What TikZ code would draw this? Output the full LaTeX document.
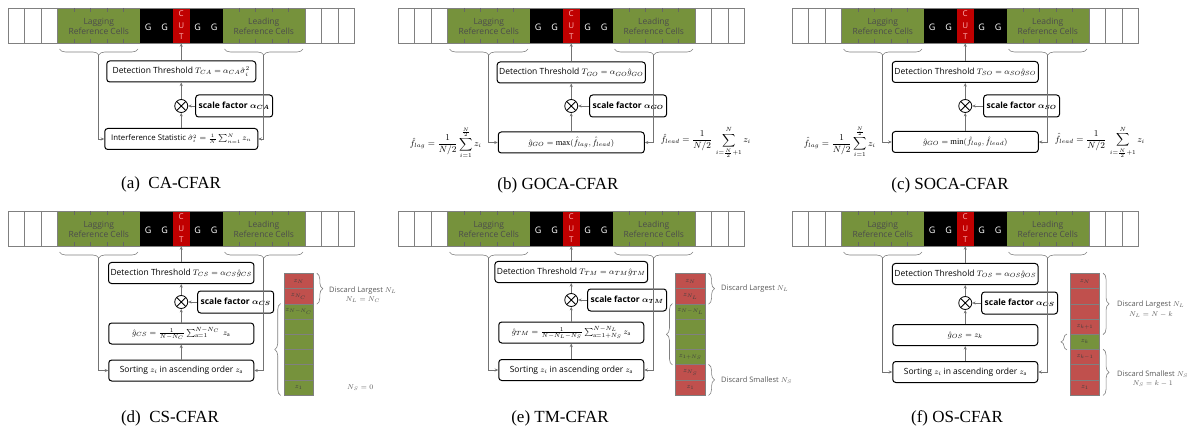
\documentclass[tikz,border=0pt]{standalone}
\usepackage{amsmath}
\usepackage{fontspec}
\setmainfont{Liberation Serif}
\setsansfont{Open Sans}
\usetikzlibrary{arrows.meta, positioning, decorations.pathreplacing, calc}

\definecolor{refgreen}{HTML}{76923C}
\definecolor{cutred}{HTML}{C00000}
\definecolor{dropred}{HTML}{C0504D}
\definecolor{cellgray}{HTML}{808080}

\newcommand{\cw}{16.5} % width of one range cell

\tikzset{
  cellline/.style={draw=cellgray, line width=0.8pt},
  tickline/.style={draw=black!60, line width=0.6pt},
  celltext/.style={font=\sffamily\fontsize{8.5}{10.5}\selectfont, text=black!70, align=center, inner sep=0pt},
  guardtext/.style={font=\sffamily\fontsize{9}{10}\selectfont, text=white, inner sep=0pt},
  cutcell/.style={fill=cutred, minimum width=\cw pt, minimum height=35pt, inner sep=0pt, align=center,
    font=\sffamily\fontsize{8}{11.5}\selectfont, text=red!30},
  rowbrace/.style={decorate, decoration={brace, mirror, amplitude=6pt}, draw=gray, line width=0.6pt},
  % one row of 21 range cells, lagging/leading windows, guards and CUT
  pics/cellrow/.style={code={
    \fill[refgreen] (3*\cw,0) rectangle (8*\cw,35);
    \fill[refgreen] (13*\cw,0) rectangle (18*\cw,35);
    \fill[black] (8*\cw,0) rectangle (13*\cw,35);
    \node[cutcell] (-cut) at (10.5*\cw,17.5) {C\\U\\T};
    \foreach \i in {1,2,3,18,19,20}
      \draw[cellline] (\i*\cw,0) -- ++(0,35);
    \draw[cellline] (0,0) rectangle (21*\cw,35);
    \foreach \i in {4,5,6,7,14,15,16,17} {
      \draw[tickline] (\i*\cw,0) -- ++(0,4);
      \draw[tickline] (\i*\cw,35) -- ++(0,-4);
    }
    \node[celltext] (-lagtext) at (5.5*\cw,18.5) {Lagging\\Reference Cells};
    \node[celltext] (-leadtext) at (15.5*\cw,18.5) {Leading\\Reference Cells};
    \foreach \i in {8,9,11,12}
      \node[guardtext] (-g\i) at (\i*\cw+0.5*\cw,19.5) {G};
    \draw[rowbrace] (3*\cw+2,41) -- (8*\cw-2,41);
    \draw[rowbrace] (13*\cw+2,41) -- (18*\cw-2,41);
    \coordinate (-lag) at (5.5*\cw,47.5);
    \coordinate (-lead) at (15.5*\cw,47.5);
  }},
}

\begin{document}
\begin{tikzpicture}[x=1pt, y=-1pt,
  box/.style={draw, rounded corners=3pt, line width=1pt, fill=white, inner sep=2pt,
    minimum height=21pt, font=\sffamily\fontsize{8.5}{10}\selectfont},
  scalebox/.style={box, font=\sffamily\bfseries\fontsize{8.5}{10}\selectfont, minimum height=22pt, inner sep=3pt},
  mult/.style={circle, draw, line width=0.8pt, minimum size=13pt, inner sep=0pt,
    path picture={\draw[line width=0.8pt]
      (path picture bounding box.north west) -- (path picture bounding box.south east)
      (path picture bounding box.north east) -- (path picture bounding box.south west);}},
  feed/.style={-{Stealth[length=3.5pt, width=3pt]}, draw=black!55, line width=0.6pt},
  sumtext/.style={font=\fontsize{9}{10}\selectfont, inner sep=0pt},
  zcell/.style={draw=cellgray, line width=0.6pt, minimum width=29.5pt, minimum height=15.2pt,
    inner sep=0pt, font=\fontsize{7}{8}\selectfont, text=black!75},
  zbrace/.style={decorate, decoration={brace, amplitude=6pt}, draw=gray, line width=0.6pt},
  droptext/.style={font=\sffamily\fontsize{7.5}{9.5}\selectfont, text=black!65, align=center,
    anchor=west, inner sep=0pt},
  caption/.style={font=\fontsize{17}{20}\selectfont, inner sep=0pt}
]
\useasboundingbox (0,0) rectangle (1196,430);

\foreach \p/\x/\y in {a/8/8, b/398/8, c/792/8, d/8/211, e/398/211, f/792/211}
  \pic (\p) at (\x,\y) {cellrow};

%% (a) CA-CFAR
\node[box, minimum width=149pt] (a-thr) at (181.25,71.5) {Detection Threshold $T_{CA}=\alpha_{CA}\hat{\sigma}_i^2$};
\node[mult] (a-mul) at (181.25,106) {};
\node[scalebox, right=7pt of a-mul] (a-scale) {scale factor $\boldsymbol{\alpha_{CA}}$};
\node[box, minimum width=153pt, font=\sffamily\fontsize{7.8}{10}\selectfont] (a-est) at (181.25,139)
  {Interference Statistic $\hat{\sigma}_i^2=\frac{1}{N}\sum_{n=1}^{N}z_n$};
\node[caption] (a-cap) at (171,184) {(a)\ \ CA-CFAR};

%% (b) GOCA-CFAR
\node[box, minimum width=146pt] (b-thr) at (571.25,72.5) {Detection Threshold $T_{GO}=\alpha_{GO}\hat{g}_{GO}$};
\node[mult] (b-mul) at (571.25,106) {};
\node[scalebox, right=11pt of b-mul] (b-scale) {scale factor $\boldsymbol{\alpha_{GO}}$};
\node[box, minimum width=146pt] (b-est) at (571.25,142.5) {$\hat{g}_{GO}=\max(\hat{f}_{lag},\hat{f}_{lead})$};
\node[sumtext, anchor=east] (b-flag) at ($(b-lag |- b-est)+(-7,0)$)
  {$\hat{f}_{lag}=\dfrac{1}{N/2}\displaystyle\sum_{i=1}^{\frac{N}{2}} z_i$};
\node[sumtext, anchor=west] (b-flead) at ($(b-lead |- b-est)+(7,0)$)
  {$\hat{f}_{lead}=\dfrac{1}{N/2}\ \displaystyle\sum_{i=\frac{N}{2}+1}^{N} z_i$};
\node[caption] (b-cap) at (558,185) {(b) GOCA-CFAR};

%% (c) SOCA-CFAR
\node[box, minimum width=146pt] (c-thr) at (965.25,72) {Detection Threshold $T_{SO}=\alpha_{SO}\hat{g}_{SO}$};
\node[mult] (c-mul) at (965.25,106) {};
\node[scalebox, right=11pt of c-mul] (c-scale) {scale factor $\boldsymbol{\alpha_{SO}}$};
\node[box, minimum width=146pt] (c-est) at (965.25,142) {$\hat{g}_{GO}=\min(\hat{f}_{lag},\hat{f}_{lead})$};
\node[sumtext, anchor=east] (c-flag) at ($(c-lag |- c-est)+(-7,0)$)
  {$\hat{f}_{lag}=\dfrac{1}{N/2}\displaystyle\sum_{i=1}^{\frac{N}{2}} z_i$};
\node[sumtext, anchor=west] (c-flead) at ($(c-lead |- c-est)+(7,0)$)
  {$\hat{f}_{lead}=\dfrac{1}{N/2}\ \displaystyle\sum_{i=\frac{N}{2}+1}^{N} z_i$};
\node[caption] (c-cap) at (950,185) {(c) SOCA-CFAR};

%% (d) CS-CFAR
\node[box, minimum width=145pt] (d-thr) at (181.25,273) {Detection Threshold $T_{CS}=\alpha_{CS}\hat{g}_{CS}$};
\node[box, minimum width=145pt] (d-est) at (181.25,333.5) {$\hat{g}_{CS}=\frac{1}{N-N_C}\sum_{\mathrm{a}=1}^{N-N_C}\ z_{\mathrm{a}}$};
\node[box, minimum width=145pt] (d-sort) at (181.25,370.5) {Sorting $z_i$ in ascending order $z_{\mathrm{a}}$};
\node[caption] (d-cap) at (170,418) {(d)\ \ CS-CFAR};

%% (e) TM-CFAR
\node[box, minimum width=145pt] (e-thr) at (571.25,272) {Detection Threshold $T_{TM}=\alpha_{TM}\hat{g}_{TM}$};
\node[box, minimum width=145pt] (e-est) at (571.25,332.5) {$\hat{g}_{TM}=\frac{1}{N-N_L-N_S}\sum_{\mathrm{a}=1+N_S}^{N-N_L} z_{\mathrm{a}}$};
\node[box, minimum width=145pt] (e-sort) at (571.25,370) {Sorting $z_i$ in ascending order $z_{\mathrm{a}}$};
\node[caption] (e-cap) at (560,418) {(e) TM-CFAR};

%% (f) OS-CFAR
\node[box, minimum width=145pt] (f-thr) at (965.25,274) {Detection Threshold $T_{OS}=\alpha_{OS}\hat{g}_{OS}$};
\node[box, minimum width=145pt] (f-est) at (965.25,335) {$\hat{g}_{OS}=z_k$};
\node[box, minimum width=145pt] (f-sort) at (965.25,372) {Sorting $z_i$ in ascending order $z_{\mathrm{a}}$};
\node[caption] (f-cap) at (957,418) {(f) OS-CFAR};

\foreach \p/\s/\ym in {d/CS/302, e/TM/300, f/OS/303} {
  \node[mult] (\p-mul) at (\p-thr |- 0,\ym) {};
  \node[scalebox, right=9pt of \p-mul] (\p-scale) {scale factor $\boldsymbol{\alpha_{\s}}$};
}

% signal flow
\foreach \p in {a,b,c} {
  \draw[feed] (\p-thr) -- (\p-cut);
  \draw[feed] (\p-mul) -- (\p-thr);
  \draw[feed] (\p-est) -- (\p-mul);
  \draw[feed] (\p-scale) -- (\p-mul);
  \draw[feed] (\p-lag) |- (\p-est);
  \draw[feed] (\p-lead) |- (\p-est);
}
\foreach \p in {d,e,f} {
  \draw[feed] (\p-thr) -- (\p-cut);
  \draw[feed] (\p-mul) -- (\p-thr);
  \draw[feed] (\p-est) -- (\p-mul);
  \draw[feed] (\p-scale) -- (\p-mul);
  \draw[feed] (\p-sort) -- (\p-est);
  \draw[feed] (\p-lag) |- (\p-sort);
  \draw[feed] (\p-lead) |- (\p-sort);
}

% sorted samples z_(1) ... z_(N)
\foreach \c/\lab [count=\k from 0] in {dropred/{$z_N$}, dropred/{$z_{N_C}$}, refgreen/{$z_{N-N_C}$},
    refgreen/{}, refgreen/{}, refgreen/{}, refgreen/{}, refgreen/{$z_1$}}
  \node[zcell, fill=\c] (d-z\k) at (298.75,281.1+\k*15.2) {\lab};
\foreach \c/\lab [count=\k from 0] in {dropred/{$z_N$}, dropred/{$z_{N_L}$}, refgreen/{$z_{N-N_L}$},
    refgreen/{}, refgreen/{}, refgreen/{$z_{1+N_S}$}, dropred/{$z_{N_S}$}, dropred/{$z_1$}}
  \node[zcell, fill=\c] (e-z\k) at (690.5,281.1+\k*15.2) {\lab};
\foreach \c/\lab [count=\k from 0] in {dropred/{$z_N$}, dropred/{}, dropred/{}, dropred/{$z_{k+1}$},
    refgreen/{$z_k$}, dropred/{$z_{k-1}$}, dropred/{}, dropred/{$z_1$}}
  \node[zcell, fill=\c] (f-z\k) at (1085,281.1+\k*15.2) {\lab};

% discarded / kept groups
\draw[zbrace] ([xshift=3pt]d-z0.north east) -- ([xshift=3pt]d-z1.south east);
\draw[zbrace] ([xshift=-3pt]d-z7.south west) -- ([xshift=-3pt]d-z2.north west);
\node[droptext] (d-large) at (329,294.5) {Discard Largest $N_L$\\$N_L=N_C$};
\node[droptext] (d-small) at (347,388) {$N_S=0$};

\draw[zbrace] ([xshift=3pt]e-z0.north east) -- ([xshift=3pt]e-z1.south east);
\draw[zbrace] ([xshift=-3pt]e-z5.south west) -- ([xshift=-3pt]e-z2.north west);
\draw[zbrace] ([xshift=3pt]e-z6.north east) -- ([xshift=3pt]e-z7.south east);
\node[droptext] (e-large) at (721,289) {Discard Largest $N_L$};
\node[droptext] (e-small) at (721,380) {Discard Smallest $N_S$};

\draw[zbrace] ([xshift=3pt]f-z0.north east) -- ([xshift=3pt]f-z3.south east);
\draw[zbrace] ([xshift=-3pt]f-z4.south west) -- ([xshift=-3pt]f-z4.north west);
\draw[zbrace] ([xshift=3pt]f-z5.north east) -- ([xshift=3pt]f-z7.south east);
\node[droptext] (f-large) at (1117,309) {Discard Largest $N_L$\\$N_L=N-k$};
\node[droptext] (f-small) at (1117,378.5) {Discard Smallest $N_S$\\$N_S=k-1$};

\end{tikzpicture}
\end{document}
